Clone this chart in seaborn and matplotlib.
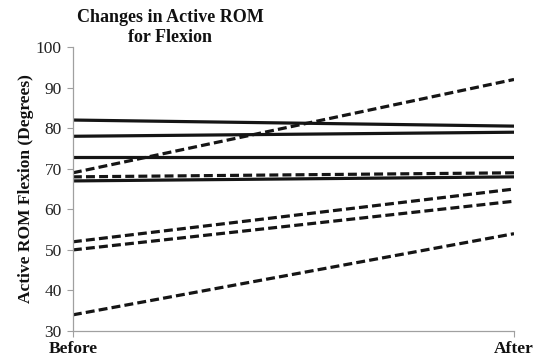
import matplotlib
matplotlib.use("Agg")
import matplotlib.pyplot as plt
import seaborn as sns
import pandas as pd

# Range of motion for each subject, before and after treatment
times = ["Before", "After"]
solid_before = [82, 78, 73, 67]
solid_after = [80.5, 79, 73, 68]
dashed_before = [69, 68, 52, 50, 34]
dashed_after = [92, 69, 65, 62, 54]

rows = []
sid = 0
for group, bef, aft in (("solid", solid_before, solid_after),
                        ("dashed", dashed_before, dashed_after)):
    for b, a in zip(bef, aft):
        rows.append({"subject": sid, "group": group, "time": times[0], "rom": b})
        rows.append({"subject": sid, "group": group, "time": times[1], "rom": a})
        sid += 1
df = pd.DataFrame(rows)

sns.set_style("white")
plt.rcParams["font.family"] = ["Liberation Serif", "DejaVu Serif"]

fig = plt.figure(figsize=(5.36, 3.56), dpi=100)
ax = fig.add_axes([0.136, 0.070, 0.823, 0.798])

sns.lineplot(data=df, x="time", y="rom", units="subject", style="group",
             estimator=None, color="#151515", linewidth=2.3,
             dashes={"solid": "", "dashed": (2.8, 1.3)}, legend=False, ax=ax)

ax.set_xlim(0, 1)
ax.set_ylim(30, 100)
ax.set_yticks(range(30, 101, 10))
ax.set_xticks([0, 1])
ax.set_xticklabels(times, fontsize=12.5, fontweight="bold")
ax.tick_params(axis="y", labelsize=12.5, length=4, width=0.8, color="#a0a0a0",
               left=True, pad=4, labelcolor="#222222")
ax.tick_params(axis="x", length=4, width=0.8, color="#a0a0a0", bottom=True,
               pad=3, labelcolor="#111111")
ax.set_xlabel("")
ax.set_ylabel("Active ROM Flexion (Degrees)", fontsize=12.5, fontweight="bold",
              labelpad=1, color="#111111")
for side in ("top", "right"):
    ax.spines[side].set_visible(False)
for side in ("left", "bottom"):
    ax.spines[side].set_color("#a0a0a0")
    ax.spines[side].set_linewidth(0.9)

fig.text(0.317, 0.922, "Changes in Active ROM\nfor Flexion", ha="center",
         va="center", fontsize=13, fontweight="bold", linespacing=1.25,
         color="#111111")

fig.savefig("out.png", dpi=100)
